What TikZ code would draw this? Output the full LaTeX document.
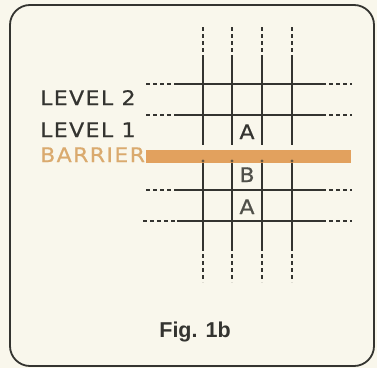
\documentclass[tikz,border=0pt]{standalone}
\usepackage{fontspec}
\setmainfont{Liberation Sans}
\newfontfamily\lettering[FakeStretch=1.1, LetterSpace=7, FakeBold=0.7]{DejaVu Sans}
\usetikzlibrary{positioning}

\definecolor{paper}{RGB}{249,247,236}
\definecolor{ink}{RGB}{52,52,48}
\definecolor{barrier}{RGB}{226,161,94}
\definecolor{barriertext}{RGB}{218,170,110}
\definecolor{faded}{RGB}{80,80,74}

\begin{document}
\begin{tikzpicture}[
    x=1pt, y=1pt,
    grid/.style={draw=ink, line width=1.9pt},
    gap/.style={draw=ink, line width=1.2pt, dash pattern=on 4pt off 3pt},
    label/.style={text=ink, inner sep=0pt, anchor=base west, font=\lettering\fontsize{20}{20}\selectfont},
    cell/.style={inner sep=0pt, anchor=base, font=\lettering\fontsize{20}{20}\selectfont}
]
    \fill[paper] (0,0) rectangle (377,368);
    \useasboundingbox (0,0) rectangle (377,368);
    \draw[ink, line width=1.8pt, rounded corners=20pt] (10,2) rectangle (374,363);

    % vertical lines, above and below the barrier
    \draw[gap] (203,341) -- (203,311) (232,341) -- (232,311)
               (262,341) -- (262,311) (292,341) -- (292,311);
    \draw[grid] (203,311) -- (203,223) (232,311) -- (232,223)
                (262,311) -- (262,223) (292,311) -- (292,223);
    \draw[grid] (203,207) -- (203,121) (232,207) -- (232,121)
                (262,207) -- (262,121) (292,207) -- (292,121);
    \draw[gap] (203,121) -- (203,86) (232,121) -- (232,86)
               (262,121) -- (262,86) (292,121) -- (292,86);

    % horizontal lines
    \draw[gap] (146,284) -- (177,284) (146,253) -- (177,253)
               (146,178) -- (177,178) (143,147) -- (177,147);
    \draw[grid] (177,284) -- (322,284) (177,253) -- (322,253)
                (177,178) -- (322,178) (177,147) -- (322,147);
    \draw[gap] (322,284) -- (352,284) (322,253) -- (352,253)
               (322,178) -- (352,178) (322,147) -- (352,147);

    \fill[barrier] (146,205) rectangle (351,218);
    \fill[ink!70!barrier] (203,207) circle (1.6pt) (232,207) circle (1.6pt)
                          (262,207) circle (1.6pt) (292,207) circle (1.6pt);

    \node[label]                    (lvl2) at (40,263) {LEVEL 2};
    \node[label]                    (lvl1) at (40,231) {LEVEL 1};
    \node[label, text=barriertext]  (bar)  at (40,206) {BARRIER};

    \node[cell, text=ink]   (a1) at (247,229) {A};
    \node[cell, text=faded] (b)  at (247,186) {B};
    \node[cell, text=faded] (a2) at (247,154) {A};

    \node[inner sep=0pt, anchor=base, text=ink, font=\bfseries\fontsize{21.5}{21.5}\selectfont] (fig) at (195,31) {Fig. 1b};
\end{tikzpicture}
\end{document}
